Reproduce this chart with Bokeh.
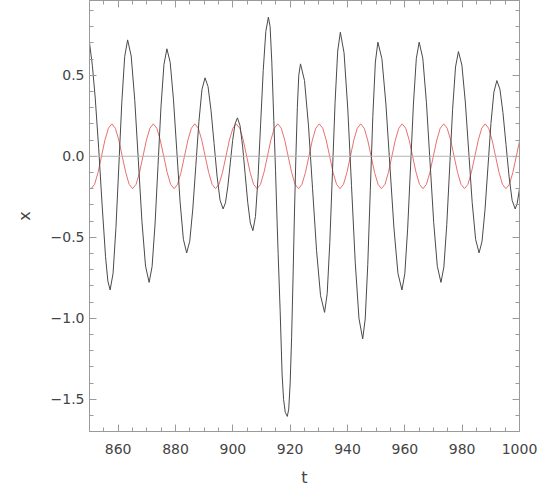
from bokeh.plotting import figure
from bokeh.models import Range1d, LinearAxis, FixedTicker, Span, CustomJSTickFormatter
from bokeh.embed import file_html
from bokeh.resources import INLINE

# ---- data ----
black_t = [850.0, 851.0, 852.0, 853.2, 854.4, 855.6, 856.4, 857.2,
           858.22, 859.23, 860.25, 861.27, 862.28, 863.3,
           864.55, 865.8, 867.05, 868.3, 869.55, 870.8,
           871.83, 872.87, 873.9, 874.93, 875.97, 877.0,
           878.15, 879.3, 880.45, 881.6, 882.75, 883.9,
           884.97, 886.03, 887.1, 888.17, 889.23, 890.3,
           891.35, 892.4, 893.45, 894.5, 895.55, 896.6,
           897.43, 898.27, 899.1, 899.93, 900.77, 901.6,
           902.5, 903.4, 904.3, 905.2, 906.1, 907.0,
           907.9, 908.8, 909.7, 910.6, 911.5, 912.4,
           913.0, 913.6, 914.3, 914.9, 915.4, 915.8, 916.5, 917.2, 917.7, 918.3, 919.0,
           919.5, 920.0, 920.5, 921.0, 921.5, 922.0, 922.5, 923.0, 923.6,
           925.0, 926.4, 927.8, 929.2, 930.6, 932.0,
           932.92, 933.83, 934.75, 935.67, 936.58, 937.5,
           938.8, 940.1, 941.4, 942.7, 944.0, 945.3,
           946.18, 947.07, 947.95, 948.83, 949.72, 950.6,
           952.0, 953.4, 954.8, 956.2, 957.6, 959.0,
           960.0, 961.0, 962.0, 963.0, 964.0, 965.0,
           966.27, 967.53, 968.8, 970.07, 971.33, 972.6,
           973.62, 974.63, 975.65, 976.67, 977.68, 978.7,
           979.9, 981.1, 982.3, 983.5, 984.7, 985.9,
           986.93, 987.97, 989.0, 990.03, 991.07, 992.1,
           993.17, 994.23, 995.3, 996.37, 997.43, 998.5,
           999.2, 1000.0]
black_x = [0.70, 0.56, 0.36, 0.05, -0.30, -0.62, -0.77, -0.825,
           -0.722, -0.439, -0.054, 0.332, 0.615, 0.718,
           0.618, 0.344, -0.030, -0.404, -0.678, -0.778,
           -0.681, -0.418, -0.058, 0.303, 0.566, 0.663,
           0.579, 0.348, 0.034, -0.281, -0.512, -0.596,
           -0.524, -0.326, -0.056, 0.214, 0.412, 0.484,
           0.430, 0.282, 0.080, -0.123, -0.271, -0.325,
           -0.287, -0.184, -0.044, 0.097, 0.199, 0.237,
           0.190, 0.063, -0.111, -0.285, -0.412, -0.459,
           -0.371, -0.130, 0.200, 0.529, 0.770, 0.858,
           0.80, 0.58, 0.22, -0.09, -0.38, -0.60, -0.95, -1.35, -1.50, -1.58, -1.605,
           -1.56, -1.40, -1.12, -0.75, -0.35, 0.00, 0.30, 0.50, 0.570,
           0.467, 0.187, -0.197, -0.580, -0.860, -0.963,
           -0.847, -0.531, -0.099, 0.333, 0.649, 0.765,
           0.638, 0.292, -0.181, -0.654, -1.000, -1.127,
           -1.004, -0.669, -0.212, 0.246, 0.581, 0.704,
           0.602, 0.322, -0.061, -0.443, -0.723, -0.825,
           -0.723, -0.443, -0.061, 0.322, 0.602, 0.704,
           0.605, 0.333, -0.037, -0.408, -0.679, -0.778,
           -0.683, -0.422, -0.066, 0.290, 0.551, 0.646,
           0.563, 0.335, 0.025, -0.286, -0.513, -0.596,
           -0.525, -0.330, -0.065, 0.201, 0.396, 0.467,
           0.414, 0.269, 0.071, -0.127, -0.272, -0.325,
           -0.29, -0.20]

red_t = [850.0, 850.57, 851.78, 852.98, 854.19, 855.39, 856.60, 857.80, 859.01, 860.22, 861.42, 862.63, 863.83,
         865.04, 866.25, 867.45, 868.66, 869.86, 871.07, 872.27, 873.48, 874.69, 875.89, 877.10, 878.30,
         879.51, 880.72, 881.92, 883.13, 884.33, 885.54, 886.74, 887.95, 889.16, 890.36, 891.57, 892.77,
         893.98, 895.19, 896.39, 897.60, 898.80, 900.01, 901.21, 902.42, 903.63, 904.83, 906.04, 907.24,
         908.45, 909.66, 910.86, 912.07, 913.27, 914.48, 915.68, 916.89, 918.10, 919.30, 920.51, 921.71,
         922.92, 924.13, 925.33, 926.54, 927.74, 928.95, 930.15, 931.36, 932.57, 933.77, 934.98, 936.18,
         937.39, 938.60, 939.80, 941.01, 942.21, 943.42, 944.62, 945.83, 947.04, 948.24, 949.45, 950.65,
         951.86, 953.07, 954.27, 955.48, 956.68, 957.89, 959.09, 960.30, 961.51, 962.71, 963.92, 965.12,
         966.33, 967.54, 968.74, 969.95, 971.15, 972.36, 973.56, 974.77, 975.98, 977.18, 978.39, 979.59,
         980.80, 982.01, 983.21, 984.42, 985.62, 986.83, 988.03, 989.24, 990.45, 991.65, 992.86, 994.06,
         995.27, 996.48, 997.68, 998.89, 1000.0]
red_x = [-0.194, -0.2, -0.173, -0.1, 0.0, 0.1, 0.173, 0.2, 0.173, 0.1, 0.0, -0.1, -0.173,
         -0.2, -0.173, -0.1, 0.0, 0.1, 0.173, 0.2, 0.173, 0.1, 0.0, -0.1, -0.173,
         -0.2, -0.173, -0.1, 0.0, 0.1, 0.173, 0.2, 0.173, 0.1, 0.0, -0.1, -0.173,
         -0.2, -0.173, -0.1, 0.0, 0.1, 0.173, 0.2, 0.173, 0.1, 0.0, -0.1, -0.173,
         -0.2, -0.173, -0.1, 0.0, 0.1, 0.173, 0.2, 0.173, 0.1, 0.0, -0.1, -0.173,
         -0.2, -0.173, -0.1, 0.0, 0.1, 0.173, 0.2, 0.173, 0.1, 0.0, -0.1, -0.173,
         -0.2, -0.173, -0.1, 0.0, 0.1, 0.173, 0.2, 0.173, 0.1, 0.0, -0.1, -0.173,
         -0.2, -0.173, -0.1, 0.0, 0.1, 0.173, 0.2, 0.173, 0.1, 0.0, -0.1, -0.173,
         -0.2, -0.173, -0.1, 0.0, 0.1, 0.173, 0.2, 0.173, 0.1, 0.0, -0.1, -0.173,
         -0.2, -0.173, -0.1, 0.0, 0.1, 0.173, 0.2, 0.173, 0.1, 0.0, -0.1, -0.173,
         -0.2, -0.173, -0.1, 0.0, 0.093]

x_ticks = [860, 880, 900, 920, 940, 960, 980, 1000]
x_minor = [850, 855, 865, 870, 875, 885, 890, 895, 905, 910, 915, 925, 930, 935, 945, 950, 955,
           965, 970, 975, 985, 990, 995]
y_ticks = [-1.5, -1.0, -0.5, 0.0, 0.5]
y_tick_labels = ["\u22121.5", "\u22121.0", "\u22120.5", "0.0", "0.5"]
y_minor = [-1.6, -1.4, -1.3, -1.2, -1.1, -0.9, -0.8, -0.7, -0.6, -0.4, -0.3, -0.2, -0.1,
           0.1, 0.2, 0.3, 0.4, 0.6, 0.7, 0.8, 0.9]

FRAME = "#9a9a9a"
TXT = "#444444"
FONT = "DejaVu Sans"

p = figure(width=539, height=489, x_range=Range1d(850, 1000), y_range=Range1d(-1.698, 0.961),
           output_backend="svg", toolbar_location=None, x_axis_location=None, y_axis_location=None,
           min_border_left=89, min_border_right=20, min_border_top=0, min_border_bottom=40)
p.grid.visible = False
p.outline_line_color = FRAME
p.background_fill_color = "white"
p.border_fill_color = "white"

xt = FixedTicker(ticks=x_ticks, minor_ticks=x_minor)
yt = FixedTicker(ticks=y_ticks, minor_ticks=y_minor)
blank = CustomJSTickFormatter(code="return ''")


def style(ax, labels=True):
    ax.axis_line_color = FRAME
    ax.major_tick_line_color = FRAME
    ax.minor_tick_line_color = FRAME
    ax.major_tick_in = 7
    ax.major_tick_out = 0
    ax.minor_tick_in = 4
    ax.minor_tick_out = 0
    if labels:
        ax.major_label_text_font = FONT
        ax.major_label_text_font_size = "14px"
        ax.major_label_text_color = TXT
        ax.axis_label_text_font = FONT
        ax.axis_label_text_font_size = "16px"
        ax.axis_label_text_font_style = "normal"
        ax.axis_label_text_color = TXT
    else:
        ax.formatter = blank
        ax.major_label_standoff = 0


bottom = LinearAxis(ticker=xt, axis_label="t")
style(bottom)
bottom.major_label_standoff = 12
bottom.axis_label_standoff = 11
p.add_layout(bottom, "below")

left = LinearAxis(ticker=yt, axis_label="x")
style(left)
left.major_label_overrides = {v: s for v, s in zip(y_ticks, y_tick_labels)}
left.major_label_standoff = 5
left.axis_label_standoff = 14
p.add_layout(left, "left")

top = LinearAxis(ticker=xt)
style(top, labels=False)
p.add_layout(top, "above")

right = LinearAxis(ticker=yt)
style(right, labels=False)
p.add_layout(right, "right")

p.add_layout(Span(location=0, dimension="width", line_color="#b4b4b4", line_width=1))

p.line(red_t, red_x, line_color="#e87070", line_width=1)
p.line(black_t, black_x, line_color="#4a4a4a", line_width=1)

open("out.html", "w").write(file_html(p, INLINE))
